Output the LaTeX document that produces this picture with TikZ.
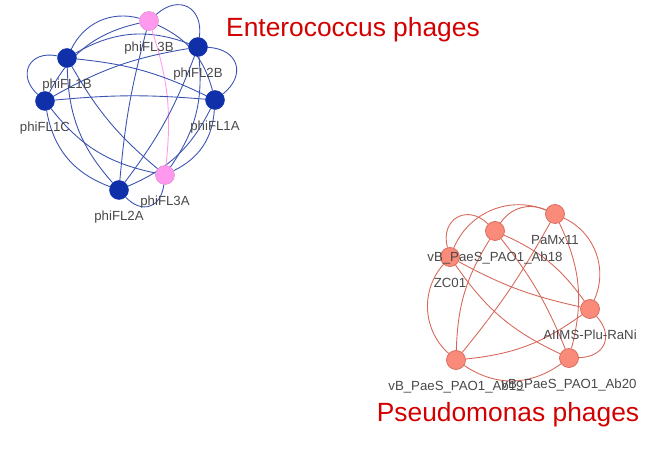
\documentclass[tikz,border=0pt]{standalone}
\usepackage{fontspec}
\setmainfont{Liberation Sans}
\usetikzlibrary{calc}

\pgfdeclarelayer{bg}
\pgfsetlayers{bg,main}

\definecolor{entblue}{RGB}{16,48,170}
\definecolor{entedge}{RGB}{58,82,178}
\definecolor{entpink}{RGB}{255,153,238}
\definecolor{pseudo}{RGB}{250,138,122}
\definecolor{pseudoedge}{RGB}{214,104,90}
\definecolor{titlered}{RGB}{210,0,0}
\definecolor{lblgray}{RGB}{72,72,72}

\begin{document}
\begin{tikzpicture}[x=0.03cm, y=0.03cm,
  phage/.style={circle, minimum size=0.57cm, inner sep=0pt},
  ent/.style={phage, fill=entblue, draw=entblue},
  entp/.style={phage, fill=entpink, draw=entpink!85!black, line width=0.4pt},
  pse/.style={phage, fill=pseudo, draw=pseudoedge, line width=0.6pt},
  lbl/.style={anchor=base, inner sep=0pt, text=lblgray,
              font=\fontsize{11.3}{13}\selectfont},
  eedge/.style={entedge, line width=0.75pt},
  pedge/.style={pseudoedge, line width=0.75pt},
  title/.style={anchor=base, inner sep=0pt, text=titlered,
                font=\fontsize{22.5}{26}\selectfont}]

  \useasboundingbox (0,0) rectangle (661,450);

%% ── Enterococcus phages (top left) ────────────
  \node[entp] (fl3b) at (149,429) {};
  \node[ent]  (fl2b) at (198,403) {};
  \node[ent]  (fl1b) at (67,392)  {};
  \node[ent]  (fl1c) at (45,349)  {};
  \node[ent]  (fl1a) at (215,350) {};
  \node[ent]  (fl2a) at (119,260) {};
  \node[entp] (fl3a) at (165,275) {};

  \node[lbl] (tfl3b) at ([yshift=-0.93cm]fl3b.center) {phiFL3B};
  \node[lbl] (tfl2b) at ([yshift=-0.93cm]fl2b.center) {phiFL2B};
  \node[lbl] (tfl1b) at ([yshift=-0.93cm]fl1b.center) {phiFL1B};
  \node[lbl] (tfl1c) at ([yshift=-0.93cm]fl1c.center) {phiFL1C};
  \node[lbl] (tfl1a) at ([yshift=-0.93cm]fl1a.center) {phiFL1A};
  \node[lbl] (tfl2a) at ([yshift=-0.93cm]fl2a.center) {phiFL2A};
  \node[lbl] (tfl3a) at ([yshift=-0.93cm]fl3a.center) {phiFL3A};

  \node[title] (tent) at (353,413) {Enterococcus phages};

  \begin{pgfonlayer}{bg}
    % neighbours on the ring
    \draw[eedge] (fl3b) to[bend left=70, looseness=1.6] (fl2b);
    \draw[eedge] (fl2b) to[bend left=70, looseness=1.6] (fl1a);
    \draw[eedge] (fl1a) to[bend left=30] (fl3a);
    \draw[eedge] (fl3a) to[bend left=65, looseness=1.5] (fl2a);
    \draw[eedge] (fl2a) to[bend left=30] (fl1c);
    \draw[eedge] (fl1c) to[bend left=75, looseness=1.7] (fl1b);
    \draw[eedge] (fl1b) to[bend left=40] (fl3b);
    % two steps apart
    \draw[eedge] (fl3b) to[bend left=25] (fl1a);
    \draw[eedge] (fl2b) to[bend left=20] (fl3a);
    \draw[eedge] (fl1a) to[bend left=20] (fl2a);
    \draw[eedge] (fl3a) to[bend left=20] (fl1c);
    \draw[eedge] (fl2a) to[bend left=20] (fl1b);
    \draw[eedge] (fl1c) to[bend left=25] (fl3b);
    \draw[eedge] (fl1b) to[bend left=25] (fl2b);
    % across
    \draw[entpink, line width=0.75pt] (fl3b) to[bend left=12] (fl3a);
    \draw[eedge] (fl2b) to[bend left=8]  (fl2a);
    \draw[eedge] (fl1a) to[bend right=5] (fl1c);
    \draw[eedge] (fl3a) to[bend left=10] (fl1b);
    \draw[eedge] (fl2a) to[bend left=5]  (fl3b);
    \draw[eedge] (fl1c) to[bend left=10] (fl2b);
    \draw[eedge] (fl1b) to[bend left=10] (fl1a);
  \end{pgfonlayer}

%% ── Pseudomonas phages (bottom right) ─────────
  \node[pse] (pamx) at (555,236) {};
  \node[pse] (ab18) at (495,219) {};
  \node[pse] (zc01) at (450,193) {};
  \node[pse] (aiims) at (590,141) {};
  \node[pse] (ab20) at (569,92)  {};
  \node[pse] (ab19) at (456,90)  {};

  \node[lbl] (tpamx)  at ([yshift=-0.93cm]pamx.center)  {PaMx11};
  \node[lbl] (tab18)  at ([yshift=-0.93cm]ab18.center)  {vB\_PaeS\_PAO1\_Ab18};
  \node[lbl] (tzc01)  at ([yshift=-0.93cm]zc01.center)  {ZC01};
  \node[lbl] (taiims) at ([yshift=-0.93cm]aiims.center) {AIIMS-Plu-RaNi};
  \node[lbl] (tab20)  at ([yshift=-0.93cm]ab20.center)  {vB\_PaeS\_PAO1\_Ab20};
  \node[lbl] (tab19)  at ([yshift=-0.93cm]ab19.center)  {vB\_PaeS\_PAO1\_Ab19};

  \node[title] (tpse) at (508,28) {Pseudomonas phages};

  \begin{pgfonlayer}{bg}
    % neighbours on the ring
    \draw[pedge] (ab18) to[bend left=40] (pamx);
    \draw[pedge] (pamx) to[bend left=45] (aiims);
    \draw[pedge] (aiims) to[bend left=65, looseness=1.5] (ab20);
    \draw[pedge] (ab20) to[bend left=35] (ab19);
    \draw[pedge] (ab19) to[bend left=45] (zc01);
    \draw[pedge] (zc01) to[bend left=75, looseness=1.6] (ab18);
    % two steps apart
    \draw[pedge] (ab18) to[bend left=15] (aiims);
    \draw[pedge] (pamx) to[bend left=20] (ab20);
    \draw[pedge] (aiims) to[bend left=15] (ab19);
    \draw[pedge] (ab20) to[bend left=15] (zc01);
    \draw[pedge] (ab19) to[bend left=15] (ab18);
    \draw[pedge] (zc01) to[bend left=45] (pamx);
    % across
    \draw[pedge] (ab18) to[bend left=8] (ab20);
    \draw[pedge] (pamx) to[bend left=5] (ab19);
    \draw[pedge] (aiims) to[bend left=8] (zc01);
  \end{pgfonlayer}

\end{tikzpicture}
\end{document}
